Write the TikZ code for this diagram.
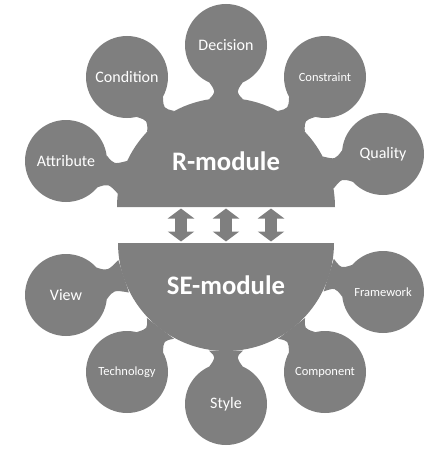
\documentclass[tikz,border=0pt]{standalone}
\usepackage{fontspec}
\setmainfont{Carlito}
\usepackage{tikz}
\usetikzlibrary{arrows.meta, calc}

\definecolor{modgray}{HTML}{7F7F7F}

\begin{document}
\begin{tikzpicture}[x=1pt, y=-1pt,
  sat/.style={circle, fill=modgray, minimum size=82pt, inner sep=0pt, text=white, font=\fontsize{16}{19}\selectfont},
  smallsat/.style={sat, font=\fontsize{12.5}{15}\selectfont},
  modlabel/.style={text=white, font=\bfseries\fontsize{26.7}{30}\selectfont},
  neck/.style={fill=modgray},
  biarrow/.style={{Triangle[width=26pt, length=10pt]}-{Triangle[width=26pt, length=10pt]}, line width=12pt, modgray}
]
\useasboundingbox (0,0) rectangle (441,452);
\coordinate (rc) at (226,207);
\coordinate (sc) at (226,243);
\fill[modgray] (117,207) arc[start angle=180, end angle=360, radius=109] -- cycle;
\fill[modgray] (334,243) arc[start angle=0, end angle=180, radius=108] -- cycle;
\node[sat] (dec) at (226,45) {Decision};
\node[sat] (cond) at (127,77) {Condition};
\node[smallsat] (cons) at (325,77) {Constraint};
\node[sat] (attr) at (66,161) {Attribute};
\node[sat] (qual) at (383,154) {Quality};
\node[sat] (view) at (66,295) {View};
\node[smallsat] (frame) at (383,292) {Framework};
\node[smallsat] (tech) at (127,372) {Technology};
\node[smallsat] (comp) at (325,372) {Component};
\node[sat] (style) at (226,404) {Style};
\foreach \s/\m in {dec/rc,cond/rc,cons/rc,attr/rc,qual/rc,view/sc,frame/sc,tech/sc,comp/sc,style/sc}
  \fill[neck] ($(\s)!41pt!24:(\m)$) .. controls ($(\s)!48pt!12:(\m)$) .. ($(\m)!109pt!-9:(\s)$)
    -- ($(\m)!109pt!9:(\s)$) .. controls ($(\s)!48pt!-12:(\m)$) .. ($(\s)!41pt!-24:(\m)$) -- cycle;
\node[modlabel] (rmod) at (226,161) {R-module};
\node[modlabel] (semod) at (226,285) {SE-module};
\foreach \i/\x in {1/181,2/226,3/271} {
  \coordinate (rt\i) at (\x,208.5);
  \coordinate (sb\i) at (\x,241.5);
  \draw[biarrow] (rt\i) -- (sb\i);
}
\end{tikzpicture}
\end{document}
